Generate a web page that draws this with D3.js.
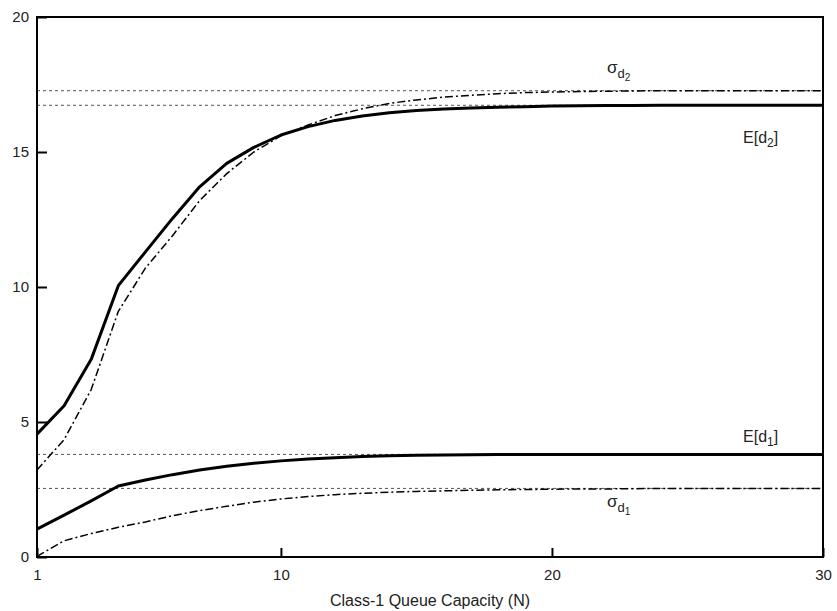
<!DOCTYPE html>
<html>
<head>
<meta charset="utf-8">
<script src="https://cdn.jsdelivr.net/npm/d3@7"></script>
<style>
  body { margin: 0; background: #fff; }
  svg text { font-family: "Liberation Sans", Arial, Helvetica, sans-serif; fill: #222; }
</style>
</head>
<body>
<div id="viz"></div>
<script>
// Datos
const capacity = d3.range(1, 31);
const meanD2  = [4.55, 5.6, 7.32, 10.05, 11.3, 12.54, 13.71, 14.58, 15.17, 15.63, 15.94, 16.17, 16.33, 16.45, 16.54, 16.59, 16.63, 16.66, 16.68, 16.7, 16.71, 16.72, 16.72, 16.73, 16.73, 16.73, 16.73, 16.73, 16.73, 16.73];
const sigmaD2 = [3.22, 4.35, 6.2, 9.1, 10.7, 11.9, 13.2, 14.2, 15.0, 15.6, 16.0, 16.35, 16.6, 16.8, 16.93, 17.03, 17.1, 17.16, 17.2, 17.22, 17.24, 17.25, 17.26, 17.27, 17.27, 17.27, 17.27, 17.27, 17.27, 17.27];
const meanD1  = [1.03, 1.55, 2.08, 2.63, 2.85, 3.05, 3.22, 3.36, 3.47, 3.56, 3.63, 3.68, 3.72, 3.75, 3.77, 3.78, 3.79, 3.8, 3.8, 3.8, 3.8, 3.8, 3.8, 3.8, 3.8, 3.8, 3.8, 3.8, 3.8, 3.8];
const sigmaD1 = [0.02, 0.6, 0.87, 1.1, 1.3, 1.53, 1.72, 1.88, 2.03, 2.15, 2.24, 2.31, 2.36, 2.4, 2.43, 2.45, 2.47, 2.49, 2.5, 2.51, 2.52, 2.52, 2.53, 2.54, 2.54, 2.54, 2.54, 2.54, 2.54, 2.54];
// Asintotas (lineas punteadas)
const asymptotes = [17.27, 16.73, 3.8, 2.54];
const xTicks = [1, 10, 20, 30];
const yTicks = [0, 5, 10, 15, 20];

let margin = {top: 17, right: 14, bottom: 54, left: 37},
    width = 837 - margin.left - margin.right,
    height = 611 - margin.top - margin.bottom;

let svg = d3.select("#viz")
    .append("svg")
        .attr("width", width + margin.left + margin.right)
        .attr("height", height + margin.top + margin.bottom)
    .append("g")
        .attr("transform", "translate(" + margin.left + "," + margin.top + ")");

let x = d3.scaleLinear().domain([1, 30]).range([0, width]);
let y = d3.scaleLinear().domain([0, 20]).range([height, 0]);

// Lineas punteadas
svg.append("g")
    .selectAll("line")
    .data(asymptotes)
    .enter()
    .append("line")
    .attr("x1", 0)
    .attr("x2", width)
    .attr("y1", function(d) { return y(d); })
    .attr("y2", function(d) { return y(d); })
    .attr("stroke", "#555")
    .attr("stroke-width", 1)
    .attr("stroke-dasharray", "3,3");

let line = function(values) {
    return d3.line()
        .x(function(d, i) { return x(capacity[i]); })
        .y(function(d) { return y(d); })(values);
};

// Curvas
let series = [
    {values: sigmaD2, width: 1.5, dash: "8,3,2,3"},
    {values: sigmaD1, width: 1.5, dash: "8,3,2,3"},
    {values: meanD2, width: 3, dash: null},
    {values: meanD1, width: 3, dash: null}
];

svg.append("g")
    .selectAll("path")
    .data(series)
    .enter()
    .append("path")
    .attr("d", function(d) { return line(d.values); })
    .attr("fill", "none")
    .attr("stroke", "#000")
    .attr("stroke-width", function(d) { return d.width; })
    .attr("stroke-linejoin", "round")
    .attr("stroke-dasharray", function(d) { return d.dash; });

// Ejes
let yAxis = svg.append("g")
    .call(d3.axisLeft(y).tickValues(yTicks).tickSize(-10).tickPadding(8));
let xAxis = svg.append("g")
    .attr("transform", "translate(0," + height + ")")
    .call(d3.axisBottom(x).tickValues(xTicks).tickSize(-9).tickPadding(12));

[xAxis, yAxis].forEach(function(g) {
    g.select(".domain").remove();
    g.selectAll(".tick line").attr("stroke", "#000").attr("stroke-width", 2);
    g.selectAll("text").style("font-size", "15px").attr("fill", "#222");
});

// Marco
svg.append("rect")
    .attr("x", 0)
    .attr("y", 0)
    .attr("width", width)
    .attr("height", height)
    .attr("fill", "none")
    .attr("stroke", "#000")
    .attr("stroke-width", 2);

// Titulo del eje
svg.append("text")
    .attr("x", width / 2)
    .attr("y", height + 49)
    .attr("text-anchor", "middle")
    .style("font-size", "16px")
    .text("Class-1 Queue Capacity (N)");

// Etiquetas de las curvas
function labelSigma(xv, yv, sub) {
    let t = svg.append("text")
        .attr("x", x(xv))
        .attr("y", yv)
        .style("font-size", "17px");
    t.append("tspan").text("σ");
    t.append("tspan").attr("dy", 5).style("font-size", "13px").text("d");
    t.append("tspan").attr("dy", 3).style("font-size", "10px").text(sub);
}
function labelMean(xv, yv, sub) {
    let t = svg.append("text")
        .attr("x", x(xv))
        .attr("y", yv)
        .style("font-size", "16px");
    t.append("tspan").text("E[d");
    t.append("tspan").attr("dy", 4).style("font-size", "12px").text(sub);
    t.append("tspan").attr("dy", -4).text("]");
}
labelSigma(22.03, y(17.27) - 18, "2");
labelMean(27.05, y(16.73) + 38, "2");
labelMean(27.05, y(3.8) - 12, "1");
labelSigma(22.03, y(2.54) + 19, "1");
</script>
</body>
</html>
